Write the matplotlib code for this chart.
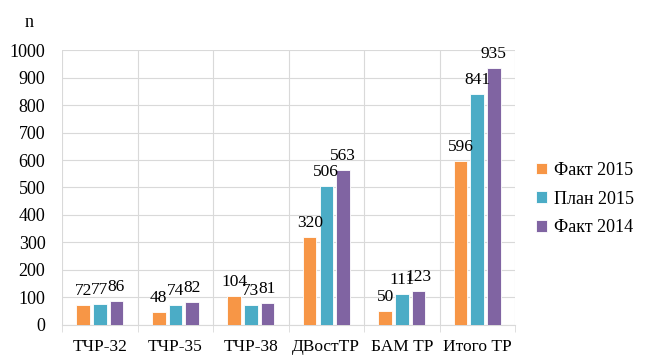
import matplotlib.pyplot as plt
import numpy as np

plt.rcParams['font.family'] = ['Liberation Serif', 'DejaVu Serif']

categories = ['ТЧР-32', 'ТЧР-35', 'ТЧР-38', 'ДВостТР', 'БАМ ТР', 'Итого ТР']
fakt_2015 = [72, 48, 104, 320, 50, 596]
plan_2015 = [77, 74, 73, 506, 111, 841]
fakt_2014 = [86, 82, 81, 563, 123, 935]

series = [('Факт 2015', fakt_2015, '#F79646'),
          ('План 2015', plan_2015, '#4BACC6'),
          ('Факт 2014', fakt_2014, '#8064A2')]

fig = plt.figure(figsize=(6.47, 3.63), dpi=100)
ax = fig.add_axes([0.096, 0.105, 0.70, 0.757])

x = np.arange(len(categories))
w = 0.18
step = 0.22
for i, (name, vals, col) in enumerate(series):
    pos = x + (i - 1) * step
    bars = ax.bar(pos, vals, w, color=col, edgecolor='white', linewidth=0.6, label=name, zorder=3)
    for p, v in zip(pos, vals):
        ax.text(p, v + 22, str(v), ha='center', va='bottom', fontsize=12.5, zorder=4)

ax.set_xlim(-0.5, len(categories) - 0.5)
ax.set_ylim(0, 1000)
ax.set_yticks(range(0, 1001, 100))
ax.set_xticks(x)
ax.set_xticklabels(categories)
ax.set_xticks(np.arange(-0.5, len(categories), 1), minor=True)
ax.tick_params(axis='x', which='major', length=0, pad=10, labelsize=12.5)
ax.tick_params(axis='x', which='minor', length=5, color='#D9D9D9')
ax.tick_params(axis='y', length=0, labelsize=13, pad=12)
ax.grid(axis='y', color='#D9D9D9', linewidth=0.8, zorder=0)
ax.grid(axis='x', which='minor', color='#D9D9D9', linewidth=0.8, zorder=0)
for s in ['top', 'right', 'left']:
    ax.spines[s].set_visible(False)
ax.spines['bottom'].set_color('#D9D9D9')

fig.text(0.045, 0.937, 'n', fontsize=13, ha='center', va='center')

ax.legend(loc='center left', bbox_to_anchor=(1.01, 0.458), frameon=False, fontsize=13,
          handlelength=0.6, handleheight=0.6, handletextpad=0.4, labelspacing=0.65)

fig.savefig('out.png', dpi=100)
